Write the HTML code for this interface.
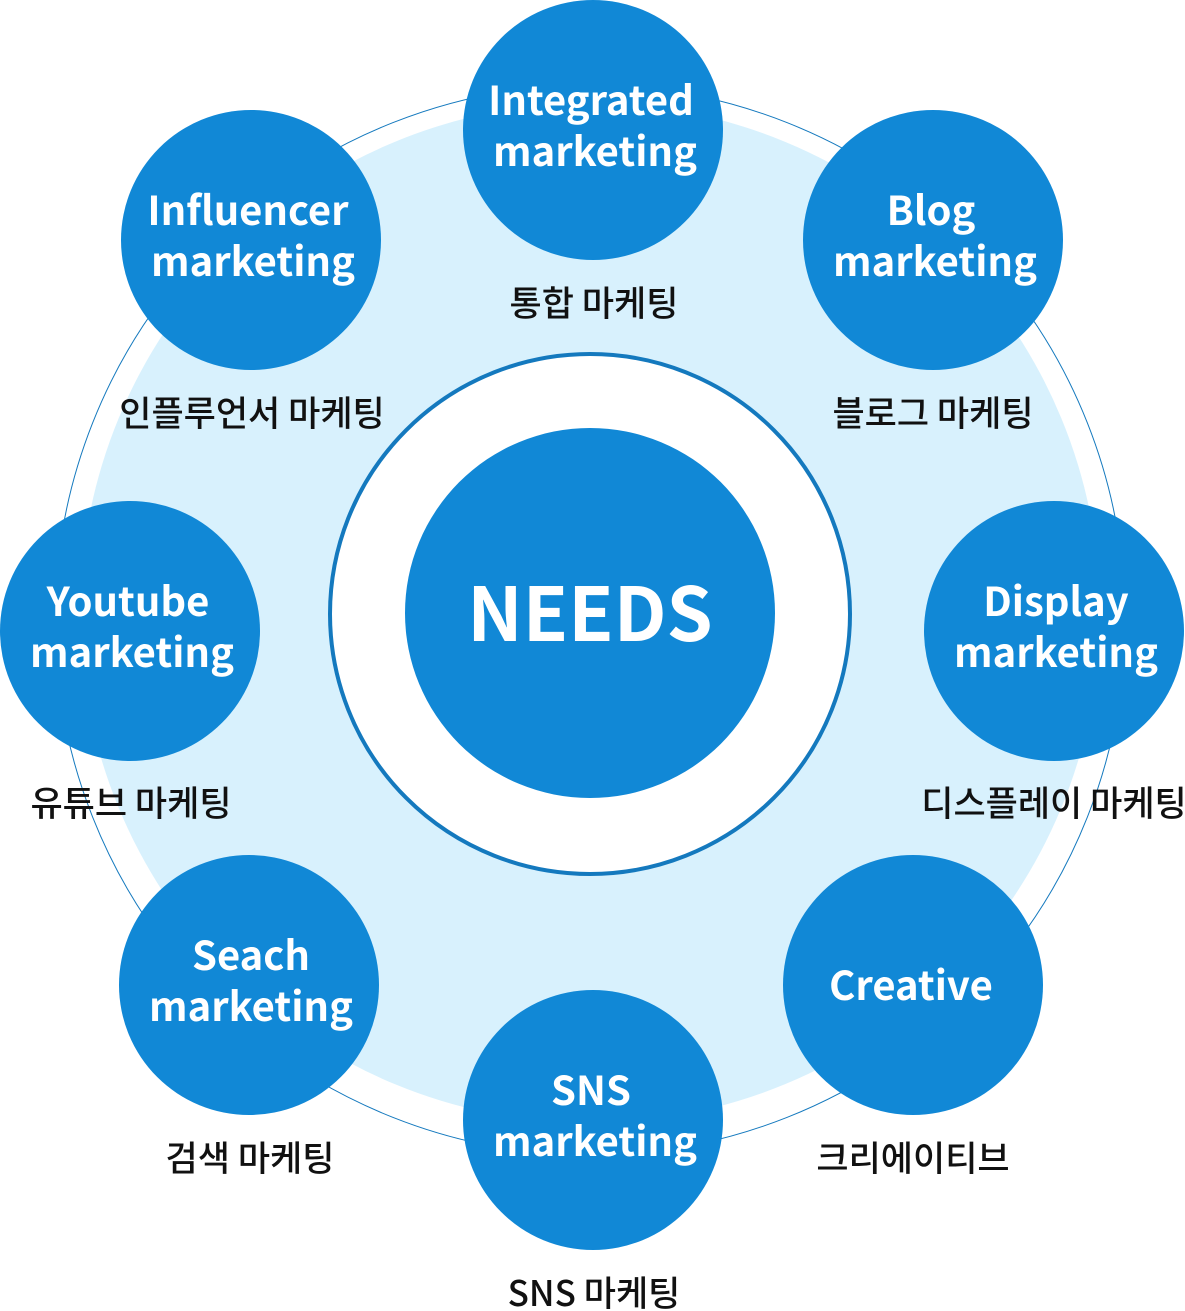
<!DOCTYPE html>
<html><head><meta charset="utf-8"><style>
html,body{margin:0;padding:0;background:#fff;}
svg{display:block;}
.en{font-family:"Noto Sans CJK KR","Liberation Sans",sans-serif;font-weight:700;fill:#fff;font-size:40px;text-anchor:middle;}
.ko{font-family:"Noto Sans CJK KR",sans-serif;font-weight:500;fill:#111;font-size:35px;text-anchor:middle;}
</style></head><body>
<svg width="1185" height="1311" viewBox="0 0 1185 1311" xmlns="http://www.w3.org/2000/svg">
<circle cx="590" cy="620" r="535" fill="none" stroke="#1479be" stroke-width="1"/>
<circle cx="590" cy="613" r="510" fill="#d8f1fd"/>
<circle cx="590" cy="614" r="260" fill="#fff" stroke="#1479be" stroke-width="4"/>
<circle cx="590" cy="613" r="185" fill="#1188d6"/>
<text x="590" y="641" class="en" style="font-size:74px">NEEDS</text>
<g fill="#1188d6">
<circle cx="593" cy="130" r="130"/>
<circle cx="933" cy="240" r="130"/>
<circle cx="251" cy="240" r="130"/>
<circle cx="130" cy="631" r="130"/>
<circle cx="1054" cy="631" r="130"/>
<circle cx="249" cy="985" r="130"/>
<circle cx="913" cy="985" r="130"/>
<circle cx="593" cy="1120" r="130"/>
</g>
<text class="en" x="591" y="115">Integrated</text><text class="en" x="595" y="166">marketing</text>
<text class="en" x="931" y="225">Blog</text><text class="en" x="935" y="276">marketing</text>
<text class="en" x="248" y="225">Influencer</text><text class="en" x="253" y="276">marketing</text>
<text class="en" x="128" y="616">Youtube</text><text class="en" x="132" y="667">marketing</text>
<text class="en" x="1056" y="616">Display</text><text class="en" x="1056" y="667">marketing</text>
<text class="en" x="251" y="970">Seach</text><text class="en" x="251" y="1021">marketing</text>
<text class="en" x="911" y="1000">Creative</text>
<text class="en" x="591" y="1105">SNS</text><text class="en" x="595" y="1156">marketing</text>
<text class="ko" x="594" y="316">통합 마케팅</text>
<text class="ko" x="252" y="426">인플루언서 마케팅</text>
<text class="ko" x="933" y="426">블로그 마케팅</text>
<text class="ko" x="131" y="816">유튜브 마케팅</text>
<text class="ko" x="1054" y="816">디스플레이 마케팅</text>
<text class="ko" x="250" y="1171">검색 마케팅</text>
<text class="ko" x="913" y="1171">크리에이티브</text>
<text class="ko" x="594" y="1306">SNS 마케팅</text>
</svg>
</body></html>
